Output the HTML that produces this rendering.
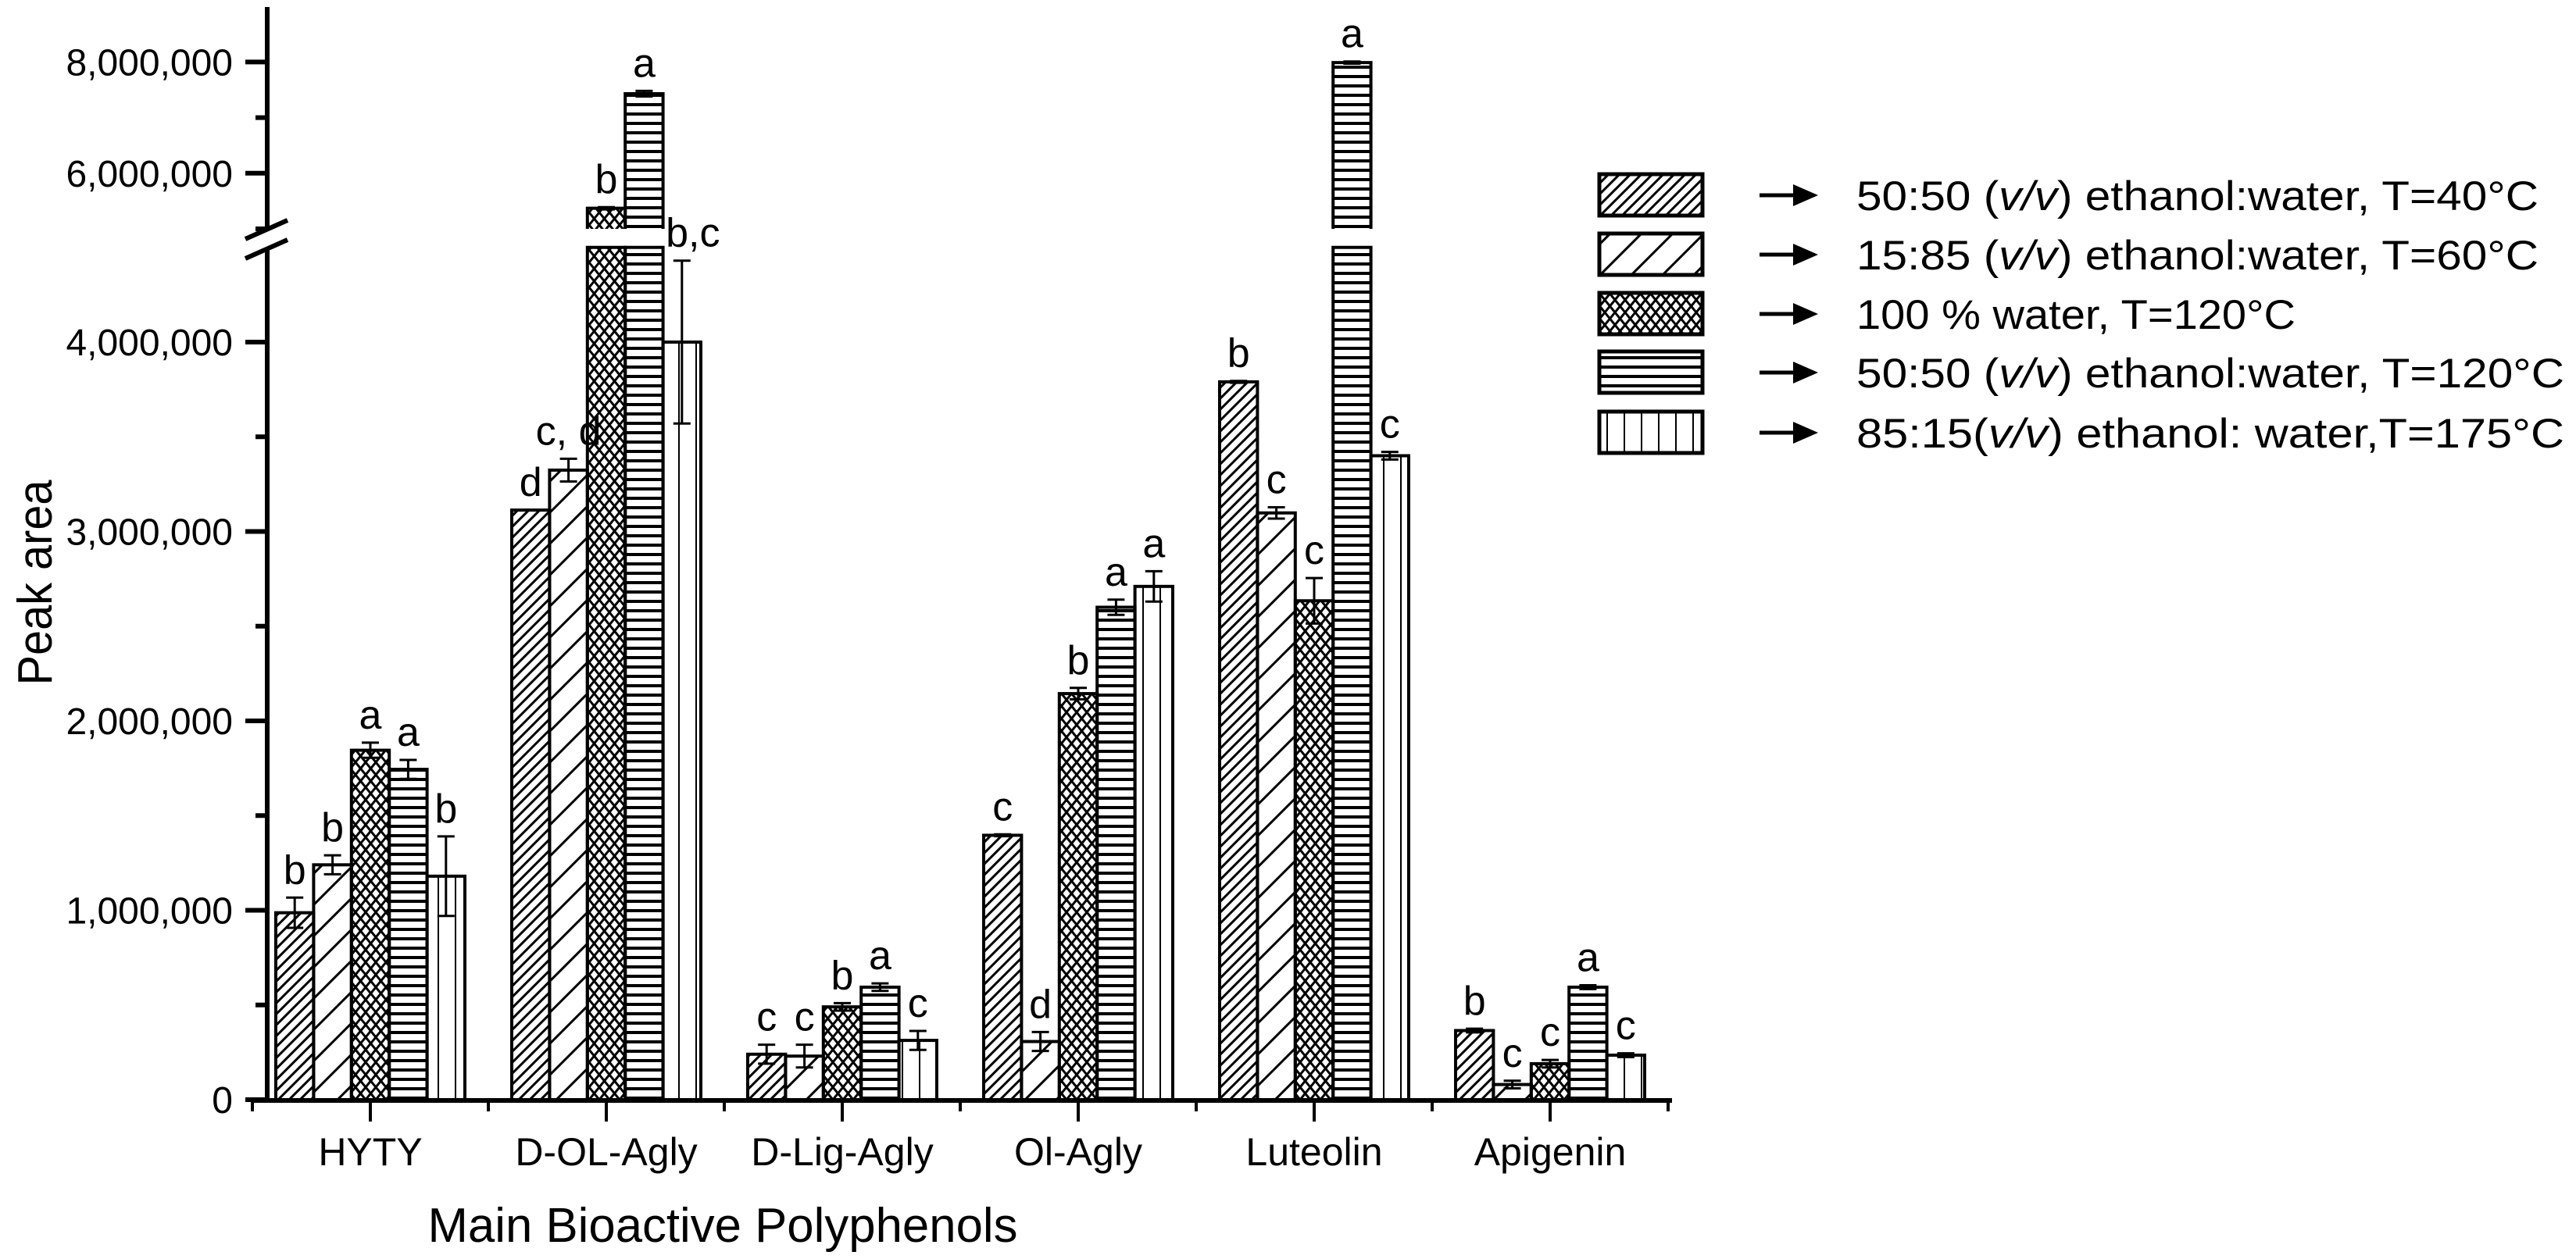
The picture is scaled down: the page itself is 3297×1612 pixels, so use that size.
<!DOCTYPE html>
<html><head><meta charset="utf-8"><style>
html,body{margin:0;padding:0;background:#fff;}
svg{display:block;font-family:"Liberation Sans",sans-serif;}
</style></head><body>
<svg id="chart" width="3297" height="1612" viewBox="0 0 3297 1612" xmlns="http://www.w3.org/2000/svg">
<defs>
<pattern id="p1" patternUnits="userSpaceOnUse" width="14" height="14"><path d="M-2,16 L16,-2 M-9,9 L9,-9 M5,23 L23,5" stroke="#000" stroke-width="3"/></pattern>
<pattern id="p2" patternUnits="userSpaceOnUse" width="40" height="40"><path d="M-5,45 L45,-5 M-25,25 L25,-25 M15,65 L65,15" stroke="#000" stroke-width="3"/></pattern>
<pattern id="p3" patternUnits="userSpaceOnUse" width="13" height="16"><path d="M0,0 L13,16 M13,0 L0,16" stroke="#000" stroke-width="3"/></pattern>
<pattern id="p4" patternUnits="userSpaceOnUse" width="10" height="12"><rect x="0" y="0" width="10" height="4" fill="#000"/></pattern>
<pattern id="p5" patternUnits="userSpaceOnUse" width="22" height="10"><rect x="10" y="0" width="2" height="10" fill="#000"/></pattern>
</defs>
<g id="plot"></g>
<g id="legend"></g>
</svg>
<script>
const categories = ["HYTY","D-OL-Agly","D-Lig-Agly","Ol-Agly","Luteolin","Apigenin"];
const s1 = [0.987,3.113,0.24,1.396,3.79,0.365];
const s2 = [1.24,3.324,0.23,0.307,3.098,0.08];
const s3 = [1.845,5.37,0.49,2.144,2.634,0.19];
const s4 = [1.744,7.43,0.594,2.6,7.99,0.594];
const s5 = [1.18,4.0,0.313,2.71,3.40,0.235];
const e1 = [0.08,0.0,0.05,0.005,0.005,0.01];
const e2 = [0.05,0.06,0.06,0.05,0.03,0.02];
const e3 = [0.04,0.02,0.02,0.03,0.12,0.02];
const e4 = [0.05,0.05,0.02,0.04,0.02,0.01];
const e5 = [0.21,0.43,0.05,0.08,0.02,0.01];
const l1 = ["b","d","c","c","b","b"];
const l2 = ["b","c, d","c","d","c","c"];
const l3 = ["a","b","b","b","c","c"];
const l4 = ["a","a","a","a","a","a"];
const l5 = ["b","b,c","c","a","c","c"];
const seriesNames = ["50:50 (v/v) ethanol:water, T=40°C","15:85 (v/v) ethanol:water, T=60°C","100 % water, T=120°C","50:50 (v/v) ethanol:water, T=120°C","85:15(v/v)  ethanol: water,T=175°C"];
const lowerTicks = [0,1,2,3,4];
const lowerTickLabels = ["0","1,000,000","2,000,000","3,000,000","4,000,000"];
const upperTicks = [6,8];
const upperTickLabels = ["6,000,000","8,000,000"];

const NS="http://www.w3.org/2000/svg";
const plot=document.getElementById('plot');
const legend=document.getElementById('legend');
function mk(tag,attrs,parent){const e=document.createElementNS(NS,tag);for(const k in attrs)e.setAttribute(k,attrs[k]);(parent||plot).appendChild(e);return e;}
const BRK_LO=4.5, BRK_HI=5.0;
function y(v){ return v<=BRK_LO ? 1408 - v*242.5 : 293 - (v-BRK_HI)*71.2; }
const X0=474, STEP=302, BW=48.4;
function xc(i){return X0+i*STEP;}

const series=[s1,s2,s3,s4,s5], errs=[e1,e2,e3,e4,e5], lets=[l1,l2,l3,l4,l5];
const fills=["url(#p1)","url(#p2)","url(#p3)","url(#p4)","url(#p5)"];

series.forEach((s,k)=>{
  s.forEach((v,i)=>{
    const x=xc(i)-2.5*BW+k*BW;
    if(v>BRK_LO){
      const r1=mk('rect',{x:x,y:y(BRK_LO),width:BW,height:1408-y(BRK_LO),fill:fills[k],stroke:'#000','stroke-width':4});
      
      
      const r2=mk('path',{d:`M${x},${y(BRK_HI)} V${y(v)} H${x+BW} V${y(BRK_HI)}`,fill:fills[k],stroke:'#000','stroke-width':4});
      
      
    } else {
      const r=mk('rect',{x:x,y:y(v),width:BW,height:1408-y(v),fill:fills[k],stroke:'#000','stroke-width':4});
      
      
    }
    const e=errs[k][i], cx=x+BW/2;
    const yt=y(v+e), yb=y(v-e);
    const eb=mk('path',{d:`M${cx},${yt} V${yb} M${cx-11},${yt} H${cx+11} M${cx-11},${yb} H${cx+11}`,stroke:'#000','stroke-width':3,fill:'none'});
    
    
    const t=mk('text',{x:cx+(lets[k][i]==="b,c"?14:0),y:yt-18,'font-size':52,'text-anchor':'middle'});
    t.textContent=lets[k][i];
    
    
  });
});

// axes
const ya=mk('path',{d:'M342,1411 V317 M342,293 V9',stroke:'#000','stroke-width':6,fill:'none'});


const xa=mk('path',{d:'M322,1409 H2140',stroke:'#000','stroke-width':6,fill:'none'});


const brk=mk('path',{d:'M314,306 L368,282 M314,331 L368,307',stroke:'#000','stroke-width':6,fill:'none'});



function ytick(v,major){mk('line',{x1:major?314:327,x2:342,y1:y(v),y2:y(v),stroke:'#000','stroke-width':6});}
[0.5,1.5,2.5,3.5].forEach(v=>ytick(v,false));
[5,7].forEach(v=>ytick(v,false));
lowerTicks.forEach((v,i)=>{ytick(v,true);
  const t=mk('text',{x:298,y:y(v)+17,'font-size':48,'text-anchor':'end'});
  t.textContent=lowerTickLabels[i];
  
  });
upperTicks.forEach((v,i)=>{ytick(v,true);
  const t=mk('text',{x:298,y:y(v)+17,'font-size':48,'text-anchor':'end'});
  t.textContent=upperTickLabels[i];
  
  });

categories.forEach((c,i)=>{
  mk('line',{x1:xc(i),x2:xc(i),y1:1409,y2:1436,stroke:'#000','stroke-width':4});
  mk('line',{x1:xc(i)-STEP/2,x2:xc(i)-STEP/2,y1:1409,y2:1423,stroke:'#000','stroke-width':4});
  const t=mk('text',{x:xc(i),y:1492,'font-size':50,'text-anchor':'middle'});
  t.textContent=c;
  
  
});
mk('line',{x1:xc(5)+STEP/2,x2:xc(5)+STEP/2,y1:1409,y2:1423,stroke:'#000','stroke-width':4});

const xt=mk('text',{x:925,y:1590,'font-size':62,'text-anchor':'middle',textLength:755,lengthAdjust:'spacingAndGlyphs'});
xt.textContent='Main Bioactive Polyphenols';


const ytl=mk('text',{x:0,y:0,'font-size':62,'text-anchor':'middle',transform:'translate(66,746) rotate(-90)',textLength:263,lengthAdjust:'spacingAndGlyphs'});
ytl.textContent='Peak area';



// legend
const legY=[223,299,375,450,527];
const legW=[873,873,562,906,906];
seriesNames.forEach((n,k)=>{
  const g=mk('g',{},legend);
  
  
  mk('rect',{x:2047,y:legY[k],width:132,height:53,fill:fills[k],stroke:'#000','stroke-width':5},g);
  const yc=legY[k]+27;
  mk('path',{d:`M2252,${yc} H2300`,stroke:'#000','stroke-width':5},g);
  mk('path',{d:`M2295,${yc-14} L2327,${yc} L2295,${yc+14} Z`,fill:'#000'},g);
  const t=mk('text',{x:2376,y:yc+19,'font-size':53,textLength:legW[k],lengthAdjust:'spacingAndGlyphs'},g);
  const parts=n.split('v/v');
  if(parts.length===2){
    t.appendChild(document.createTextNode(parts[0]));
    const it=document.createElementNS(NS,'tspan');it.setAttribute('font-style','italic');it.textContent='v/v';t.appendChild(it);
    t.appendChild(document.createTextNode(parts[1]));
  } else t.textContent=n;
});
</script>
</body></html>
